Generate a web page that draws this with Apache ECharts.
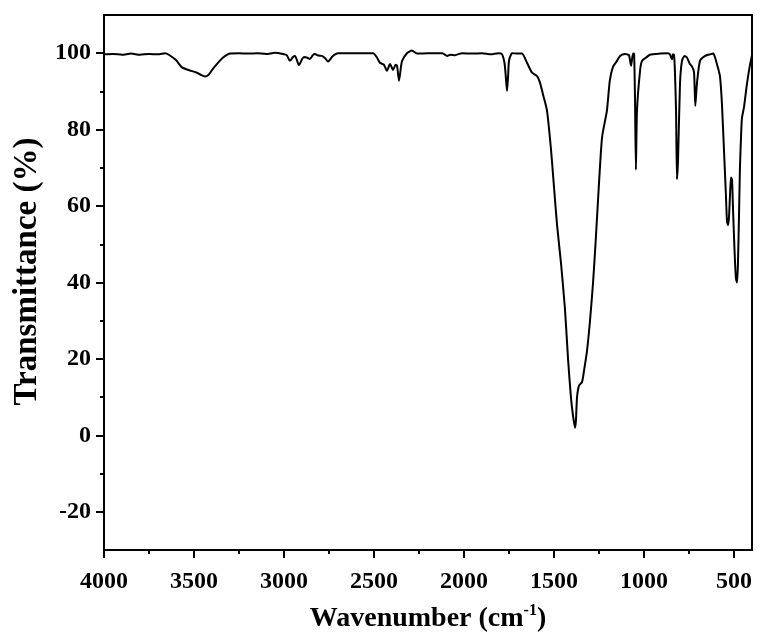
<!DOCTYPE html>
<html>
<head>
<meta charset="utf-8">
<script src="https://cdn.jsdelivr.net/npm/echarts@6/dist/echarts.min.js"></script>
<style>html,body{margin:0;padding:0;background:#fff}#c{width:760px;height:642px}</style>
</head>
<body>
<div id="c"></div>
<script>
// wavenumber (cm^-1)
const wavenumber = [4000,3950,3900,3850,3800,3750,3700,3660,3640,3600,3567,3530,3483,3460,3439,3420,3400,3372,3340,3300,3250,3200,3150,3100,3050,3005,2985,2967,2950,2939,2917,2900,2889,2870,2856,2840,2828,2810,2789,2770,2756,2730,2700,2600,2505,2485,2467,2445,2428,2411,2394,2380,2372,2361,2350,2344,2317,2289,2261,2200,2120,2094,2075,2050,2011,1950,1900,1850,1810,1790,1775,1768,1761,1755,1750,1733,1700,1678,1650,1622,1594,1578,1560,1539,1517,1500,1483,1461,1439,1422,1406,1394,1383,1378,1372,1361,1344,1333,1317,1300,1283,1267,1250,1233,1206,1190,1172,1150,1133,1106,1094,1083,1072,1061,1055,1050,1045,1039,1022,1011,990,967,911,867,856,845,839,833,828,822,817,811,800,789,775,761,745,733,722,715,706,689,660,633,615,606,595,578,567,556,545,539,533,528,522,517,511,506,500,494,489,483,478,472,467,461,456,444,428,411,400];
// transmittance (%)
const transmittance = [99.7,99.8,99.6,99.9,99.6,99.8,99.7,100.0,99.6,98.2,96.3,95.6,94.9,94.3,93.9,94.3,95.6,97.2,98.8,99.9,100,99.9,100,99.8,100.1,99.8,99.5,98.0,99.0,99.3,96.9,98.4,99.0,98.8,98.5,99.5,99.8,99.4,99.3,98.6,97.8,99.2,100,100,100,99.0,97.5,97.0,95.4,97.2,95.6,97.0,96.7,92.8,96.5,98.0,100,100.7,99.9,100,100,99.3,99.6,99.5,100,99.9,100,99.7,100,99.8,97.5,94,90.1,94,98,100,99.9,99.9,97.5,94.9,94.0,92.3,89,85,75,65,55,45,33,20,10,5,2,4,10,13,14,17,22,30,40,52,66,78,85,92.8,96.5,98,99.3,99.8,99.7,99.5,96.7,99.9,99.8,88,69.5,85,95.4,98,98.8,99.6,99.9,100,99.7,98.4,99.7,99.5,95,85,67,72,92,98,99.3,98.8,97.2,96.5,95,86.2,92,98,99.3,99.7,99.9,99,97.2,94,86.7,75,63,56,55,57,63,67.5,67,60,52,45,41,40,45,58,70,78,83,86,92,97,99.5,100];

const xMajorTicks = [500,1000,1500,2000,2500,3000,3500,4000];
const xMinorTicks = [750,1250,1750,2250,2750,3250,3750];
const yMajorTicks = [-20,0,20,40,60,80,100];
const yMinorTicks = [-10,10,30,50,70,90];

const xTitle = 'Wavenumber (cm{sup|-1})';
const yTitle = 'Transmittance (%)';

const font = '"Liberation Serif", "Times New Roman", serif';
const points = wavenumber.map((w, i) => [w, transmittance[i]]);
const plain = v => String(v);

const chart = echarts.init(document.getElementById('c'), null, {renderer: 'canvas'});
const baseX = {
  type: 'value', min: 400, max: 4000, inverse: true, position: 'bottom', gridIndex: 0,
  splitLine: {show: false}, minorTick: {show: false}
};
const baseY = {
  type: 'value', min: -30, max: 110, position: 'left', gridIndex: 0,
  splitLine: {show: false}, minorTick: {show: false}
};
chart.setOption({
  animation: false,
  backgroundColor: '#fff',
  grid: {left: 104, right: 8, top: 15, bottom: 92, show: true, borderColor: '#000', borderWidth: 2, containLabel: false},
  xAxis: [
    Object.assign({}, baseX, {
      axisLine: {show: true, onZero: false, lineStyle: {color: '#000', width: 2}},
      axisTick: {show: true, customValues: xMajorTicks, length: 8, lineStyle: {color: '#000', width: 2}},
      axisLabel: {show: true, customValues: xMajorTicks, formatter: plain, margin: 20, color: '#000', fontFamily: font, fontWeight: 'bold', fontSize: 24},
      name: xTitle, nameLocation: 'middle', nameGap: 53,
      nameTextStyle: {color: '#000', fontFamily: font, fontWeight: 'bold', fontSize: 28, lineHeight: 31,
        rich: {sup: {fontFamily: font, fontWeight: 'bold', fontSize: 16, verticalAlign: 'top', lineHeight: 15, color: '#000'}}}
    }),
    Object.assign({}, baseX, {
      axisLine: {show: false, onZero: false},
      axisTick: {show: true, customValues: xMinorTicks, length: 4, lineStyle: {color: '#000', width: 2}},
      axisLabel: {show: false}
    })
  ],
  yAxis: [
    Object.assign({}, baseY, {
      axisLine: {show: true, onZero: false, lineStyle: {color: '#000', width: 2}},
      axisTick: {show: true, customValues: yMajorTicks, length: 8, lineStyle: {color: '#000', width: 2}},
      axisLabel: {show: true, customValues: yMajorTicks, formatter: plain, margin: 13, color: '#000', fontFamily: font, fontWeight: 'bold', fontSize: 24},
      name: yTitle, nameLocation: 'middle', nameGap: 57, nameRotate: 90,
      nameTextStyle: {color: '#000', fontFamily: font, fontWeight: 'bold', fontSize: 33, padding: [0, 0, 0, 22]}
    }),
    Object.assign({}, baseY, {
      axisLine: {show: false, onZero: false},
      axisTick: {show: true, customValues: yMinorTicks, length: 4, lineStyle: {color: '#000', width: 2}},
      axisLabel: {show: false}
    })
  ],
  series: [{
    type: 'line', xAxisIndex: 0, yAxisIndex: 0, data: points,
    showSymbol: false, symbol: 'none', smooth: 0.2,
    lineStyle: {color: '#000', width: 2}
  }]
});
</script>
</body>
</html>
